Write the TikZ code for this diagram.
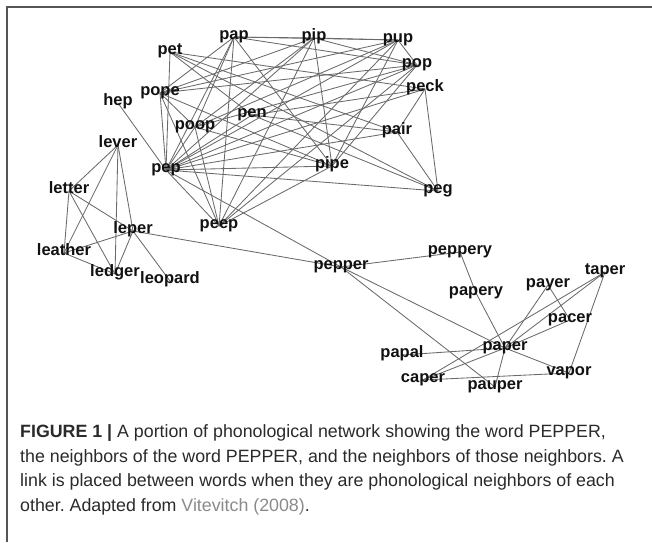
\documentclass[tikz,border=0pt]{standalone}
\usepackage{fontspec}
\setmainfont{Liberation Sans}
\usetikzlibrary{backgrounds}
\frenchspacing
\definecolor{edgegrey}{HTML}{6A6A6A}
\definecolor{labelink}{HTML}{111111}
\definecolor{captext}{HTML}{2A2A2A}
\definecolor{linkgrey}{HTML}{8A8A8A}
\definecolor{framegrey}{HTML}{555555}
\tikzset{
  word/.style={font=\bfseries\fontsize{16.5}{17}\selectfont, text=labelink, inner sep=0pt, text height=0.72em, text depth=0.2em},
  link/.style={draw=edgegrey, line width=0.85pt},
  capline/.style={anchor=base west, inner sep=0pt, text=captext, font=\fontsize{17.8}{19}\selectfont},
  frame/.style={draw=framegrey, line width=1.6pt}
}
\begin{document}
\begin{tikzpicture}[x=1pt,y=-1pt]
\useasboundingbox (0,0) rectangle (652,542);
% frame
\coordinate (fl) at (7,542);
\coordinate (fc) at (7,7);
\coordinate (fr) at (652,7);
\draw[frame, line join=miter] (fl) -- (fc) -- (fr);
% words
\node[word] (pap) at (234,37) {pap};
\node[word] (pip) at (314,38) {pip};
\node[word] (pup) at (398,40) {pup};
\node[word] (pop) at (417,65) {pop};
\node[word] (peck) at (425,89) {peck};
\node[word] (pet) at (170,52) {pet};
\node[word] (pope) at (160,93) {pope};
\node[word] (hep) at (118,103) {hep};
\node[word] (pen) at (252,115) {pen};
\node[word] (poop) at (195,127) {poop};
\node[word] (pair) at (397,132) {pair};
\node[word] (pep) at (166,170) {pep};
\node[word] (pipe) at (332,166) {pipe};
\node[word] (peg) at (438,191) {peg};
\node[word] (peep) at (219,226) {peep};
\node[word] (lever) at (118,145) {lever};
\node[word] (letter) at (69,191) {letter};
\node[word] (leper) at (133,231) {leper};
\node[word] (leather) at (64,253) {leather};
\node[word] (ledger) at (115,274) {ledger};
\node[word] (leopard) at (170,281) {leopard};
\node[word] (pepper) at (341,267) {pepper};
\node[word] (peppery) at (460,252) {peppery};
\node[word] (papery) at (476,293) {papery};
\node[word] (payer) at (548,285) {payer};
\node[word] (taper) at (605,272) {taper};
\node[word] (pacer) at (570,320) {pacer};
\node[word] (paper) at (505,348) {paper};
\node[word] (papal) at (402,355) {papal};
\node[word] (vapor) at (569,373) {vapor};
\node[word] (caper) at (423,380) {caper};
\node[word] (pauper) at (495,387) {pauper};
% links
\begin{scope}[on background layer]
\foreach \a [count=\i] in {pap,pip,pup,pop,pope,poop,pipe,peep,pep}{
  \foreach \b [count=\j] in {pap,pip,pup,pop,pope,poop,pipe,peep,pep}{
    \ifnum\j>\i \draw[link] (\a.center) -- (\b.center); \fi
  }
}
\foreach \a [count=\i] in {pep,peck,pet,pen,peg,pair}{
  \foreach \b [count=\j] in {pep,peck,pet,pen,peg,pair}{
    \ifnum\j>\i \draw[link] (\a.center) -- (\b.center); \fi
  }
}
\foreach \a [count=\i] in {lever,letter,leather,ledger,leper}{
  \foreach \b [count=\j] in {lever,letter,leather,ledger,leper}{
    \ifnum\j>\i \draw[link] (\a.center) -- (\b.center); \fi
  }
}
\foreach \a/\b in {hep/pep, pep/pepper, leper/leopard, leper/pepper,
  pepper/peppery, pepper/paper, pepper/pauper, peppery/papery, papery/paper,
  paper/papal, paper/caper, paper/pauper, paper/vapor, paper/pacer, paper/payer,
  paper/taper, caper/taper, caper/vapor, taper/vapor, payer/pacer}{
  \draw[link] (\a.center) -- (\b.center);
}
\end{scope}
% caption
\node[capline] (c1) at (20,437) {\textbf{FIGURE 1 |} A portion of phonological network showing the word PEPPER,};
\node[capline] (c2) at (20,462) {the neighbors of the word PEPPER, and the neighbors of those neighbors. A};
\node[capline] (c3) at (20,486) {link is placed between words when they are phonological neighbors of each};
\node[capline] (c4) at (20,511) {other. Adapted from \textcolor{linkgrey}{Vitevitch (2008)}.};
\end{tikzpicture}
\end{document}
